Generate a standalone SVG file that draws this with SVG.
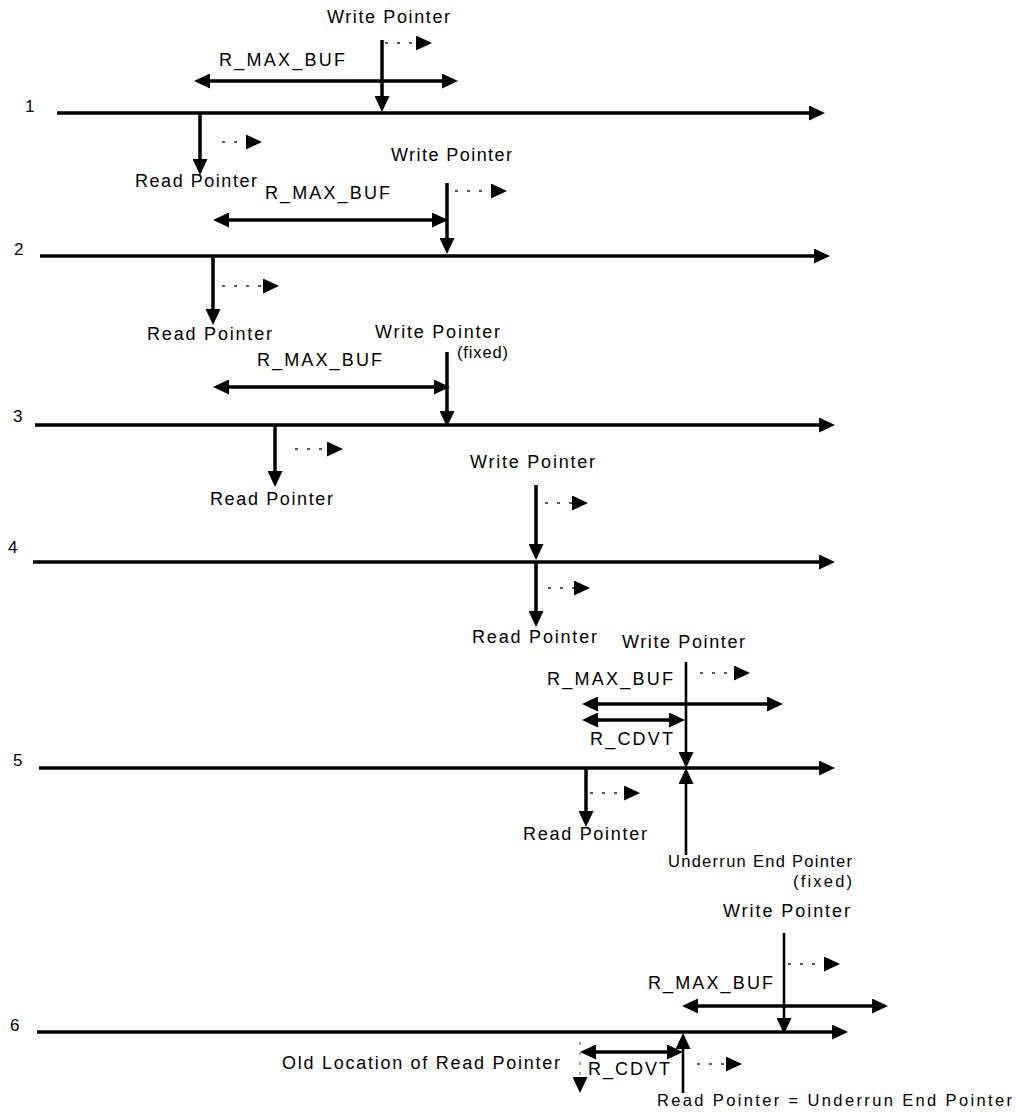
<svg xmlns="http://www.w3.org/2000/svg" width="1021" height="1112" viewBox="0 0 1021 1112">
<style>
text { font-family: "Liberation Sans", Arial, sans-serif; font-size: 18px; fill: #000; }
.num { font-size: 17px; }
.sm { font-size: 16.5px; }
.ln { stroke: #000; stroke-width: 3.5; fill: none; }
.thin { stroke: #000; stroke-width: 2.6; fill: none; }
.dot { stroke: #222; stroke-width: 1.3; stroke-dasharray: 3 9; fill: none; }
.old { stroke: #666; stroke-width: 1.2; stroke-dasharray: 3 7; fill: none; }
.a { marker-end: url(#ah); }
.aa { marker-start: url(#ah); marker-end: url(#ah); }
</style>
<defs>
<marker id="ah" markerUnits="userSpaceOnUse" markerWidth="16" markerHeight="15" refX="1" refY="7.5" orient="auto-start-reverse" viewBox="0 0 16 15">
<path d="M0,0 L16,7.5 L0,15 z" fill="#000"/>
</marker>
</defs>
<rect width="1021" height="1112" fill="#fff"/>

<g id="connectors">
<!-- row 1 -->
<line class="ln a" x1="57" y1="113" x2="810" y2="113"/>
<line class="ln a" x1="382" y1="40" x2="382" y2="97"/>
<line class="dot a" x1="385" y1="43" x2="417" y2="43"/>
<line class="ln aa" x1="209" y1="81" x2="443" y2="81"/>
<line class="ln a" x1="200" y1="113" x2="200" y2="160"/>
<line class="dot a" x1="222" y1="142" x2="247" y2="142"/>
<!-- row 2 -->
<line class="ln a" x1="40" y1="256" x2="815" y2="256"/>
<line class="ln a" x1="447" y1="183" x2="447" y2="239"/>
<line class="dot a" x1="455" y1="191" x2="492" y2="191"/>
<line class="ln aa" x1="228" y1="220" x2="433" y2="220"/>
<line class="ln a" x1="213" y1="256" x2="213" y2="310"/>
<line class="dot a" x1="222" y1="286" x2="264" y2="286"/>
<!-- row 3 -->
<line class="ln a" x1="35" y1="425" x2="820" y2="425"/>
<line class="ln a" x1="447" y1="352" x2="447" y2="412"/>
<line class="ln aa" x1="228" y1="387" x2="435" y2="387"/>
<line class="ln a" x1="275" y1="425" x2="275" y2="472"/>
<line class="dot a" x1="295" y1="449" x2="328" y2="449"/>
<!-- row 4 -->
<line class="ln a" x1="33" y1="562" x2="820" y2="562"/>
<line class="ln a" x1="536" y1="485" x2="536" y2="545"/>
<line class="dot a" x1="545" y1="503" x2="573" y2="503"/>
<line class="ln a" x1="536" y1="562" x2="536" y2="612"/>
<line class="dot a" x1="548" y1="588" x2="575" y2="588"/>
<!-- row 5 -->
<line class="ln a" x1="39" y1="768" x2="820" y2="768"/>
<line class="thin a" x1="686" y1="662" x2="686" y2="753"/>
<line class="dot a" x1="700" y1="673" x2="735" y2="673"/>
<line class="ln aa" x1="597" y1="704" x2="768" y2="704"/>
<line class="ln aa" x1="597" y1="720" x2="670" y2="720"/>
<line class="thin a" x1="686" y1="855" x2="686" y2="783"/>
<line class="ln a" x1="586" y1="768" x2="586" y2="812"/>
<line class="dot a" x1="590" y1="793" x2="625" y2="793"/>
<!-- row 6 -->
<line class="ln a" x1="37" y1="1032" x2="833" y2="1032"/>
<line class="thin a" x1="784" y1="933" x2="784" y2="1019"/>
<line class="dot a" x1="788" y1="964" x2="825" y2="964"/>
<line class="ln aa" x1="697" y1="1006" x2="873" y2="1006"/>
<line class="thin a" x1="683" y1="1093" x2="683" y2="1048"/>
<line class="ln aa" x1="595" y1="1052" x2="668" y2="1052"/>
<line class="old a" x1="580" y1="1042" x2="580" y2="1078"/>
<line class="dot a" x1="697" y1="1064" x2="727" y2="1064"/>
</g>

<g id="row1">
<text class="num" x="25" y="112">1</text>
<text x="327" y="23" textLength="123" lengthAdjust="spacing">Write Pointer</text>
<text x="219" y="66" textLength="126" lengthAdjust="spacing">R_MAX_BUF</text>
<text x="135" y="187" textLength="122" lengthAdjust="spacing">Read Pointer</text>
</g>
<g id="row2">
<text class="num" x="14" y="255">2</text>
<text x="391" y="161" textLength="121" lengthAdjust="spacing">Write Pointer</text>
<text x="265" y="199" textLength="125" lengthAdjust="spacing">R_MAX_BUF</text>
<text x="147" y="340" textLength="125" lengthAdjust="spacing">Read Pointer</text>
</g>
<g id="row3">
<text class="num" x="13" y="422">3</text>
<text x="375" y="338" textLength="125" lengthAdjust="spacing">Write Pointer</text>
<text class="sm" x="457" y="358" textLength="51" lengthAdjust="spacing">(fixed)</text>
<text x="257" y="366" textLength="125" lengthAdjust="spacing">R_MAX_BUF</text>
<text x="210" y="505" textLength="123" lengthAdjust="spacing">Read Pointer</text>
</g>
<g id="row4">
<text class="num" x="8" y="553">4</text>
<text x="470" y="468" textLength="125" lengthAdjust="spacing">Write Pointer</text>
<text x="472" y="643" textLength="125" lengthAdjust="spacing">Read Pointer</text>
</g>
<g id="row5">
<text class="num" x="13" y="766">5</text>
<text x="622" y="648" textLength="123" lengthAdjust="spacing">Write Pointer</text>
<text x="547" y="685" textLength="126" lengthAdjust="spacing">R_MAX_BUF</text>
<text x="590" y="745" textLength="83" lengthAdjust="spacing">R_CDVT</text>
<text x="523" y="840" textLength="124" lengthAdjust="spacing">Read Pointer</text>
<text class="sm" x="668" y="867" textLength="184" lengthAdjust="spacing">Underrun End Pointer</text>
<text class="sm" x="793" y="887" textLength="59" lengthAdjust="spacing">(fixed)</text>
</g>
<g id="row6">
<text class="num" x="10" y="1031">6</text>
<text x="723" y="917" textLength="127" lengthAdjust="spacing">Write Pointer</text>
<text x="648" y="989" textLength="125" lengthAdjust="spacing">R_MAX_BUF</text>
<text x="588" y="1075" textLength="82" lengthAdjust="spacing">R_CDVT</text>
<text x="282" y="1069" textLength="278" lengthAdjust="spacing">Old Location of Read Pointer</text>
<text class="sm" x="657" y="1106" textLength="355" lengthAdjust="spacing">Read Pointer = Underrun End Pointer</text>
</g>
</svg>
